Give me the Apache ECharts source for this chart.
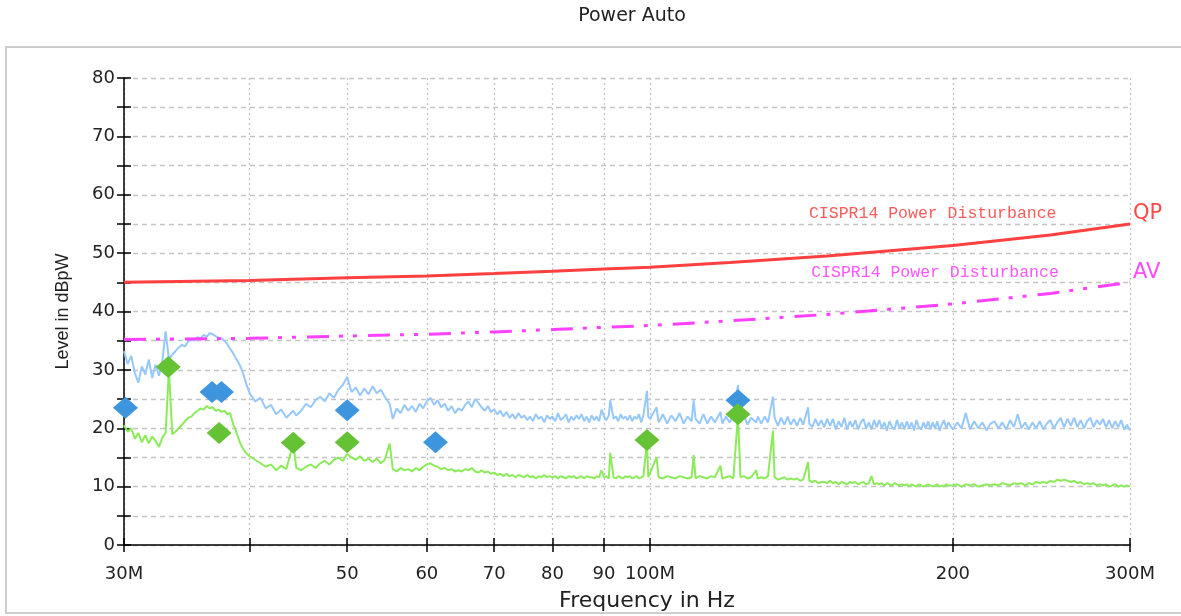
<!DOCTYPE html>
<html><head><meta charset="utf-8">
<script src="https://cdn.jsdelivr.net/npm/echarts@6/dist/echarts.min.js"></script>
<style>html,body{margin:0;padding:0;background:#fff}#c{width:1181px;height:616px}</style>
</head><body><div id="c"></div>
<script>
// Sweep frequencies (MHz)
const freqMHz = [
 30, 30.25, 30.5, 30.75, 31, 31.25, 31.5, 31.75, 32, 32.25,
 32.5, 32.75, 33, 33.25, 33.5, 33.75, 34, 34.25, 34.5, 34.75,
 35, 35.25, 35.5, 35.75, 36, 36.25, 36.5, 36.75, 37, 37.25,
 37.5, 37.75, 38, 38.25, 38.5, 38.75, 39, 39.25, 39.5, 39.75,
 40, 40.5, 41, 41.5, 42, 42.5, 43, 43.5, 44.2, 44.5,
 45, 45.5, 46, 46.5, 47, 47.5, 48, 48.5, 49, 49.5,
 50, 50.5, 51, 51.5, 52, 52.5, 53, 53.5, 54, 54.5,
 55.1, 55.5, 56, 56.5, 57, 57.5, 58, 58.5, 59, 59.5,
 60, 60.5, 61, 61.5, 62, 62.5, 63, 63.5, 64, 64.5,
 65, 65.5, 66, 66.5, 67, 67.5, 68, 68.5, 69, 69.5,
 70, 70.5, 71, 71.5, 72, 72.5, 73, 73.5, 74, 74.5,
 75, 75.5, 76, 76.5, 77, 77.5, 78, 78.5, 79, 79.5,
 80, 80.5, 81, 81.5, 82, 82.5, 83, 83.5, 84, 84.5,
 85, 85.5, 86, 86.5, 87, 87.5, 88, 88.5, 89, 89.5,
 90, 90.5, 91, 91.3, 92, 92.5, 93, 93.5, 94, 94.5,
 95, 95.5, 96, 96.5, 97, 97.5, 98, 98.5, 99.3, 99.6,
 100, 101.5, 102, 103, 104, 105, 106, 107, 108, 109,
 110, 110.5, 111, 112, 113, 114, 115, 116, 117.5, 118,
 119, 120, 121, 122.3, 123, 124, 125, 126, 127.5, 128,
 129, 130, 131, 132.5, 133, 134, 135, 136, 137, 138,
 139, 140, 141, 142, 143.6, 144, 145, 146, 147, 148,
 149, 150, 151, 152, 153, 154, 155, 156, 157, 158,
 159, 160, 161, 162, 163, 164, 165, 166, 167, 168,
 169, 170, 171, 172, 173, 174, 175, 176, 177, 178,
 179, 180, 181, 182, 183, 184, 185, 186, 187, 188,
 189, 190, 191, 192, 193, 194, 195, 196, 197, 198,
 200, 202, 204, 206, 208, 210, 212, 214, 216, 218,
 220, 222, 224, 226, 228, 230, 232, 234, 236, 238,
 240, 242, 244, 246, 248, 250, 252, 254, 256, 258,
 260, 262, 264, 266, 268, 270, 272, 274, 276, 278,
 280, 282, 284, 286, 288, 290, 292, 294, 296, 298,
 300
];
// Peak trace (dBpW)
const peakLevel = [
 33.2, 31.0, 32.4, 29.5, 27.8, 30.6, 29.2, 31.8, 28.6, 30.9,
 29.0, 31.5, 36.6, 31.8, 32.6, 33.2, 33.8, 34.3, 34.0, 34.9,
 35.2, 35.0, 35.6, 35.4, 36.0, 35.7, 36.3, 36.1, 35.8, 35.5,
 35.4, 35.0, 34.4, 33.6, 32.9, 32.0, 31.2, 30.2, 28.8, 27.2,
 26.0, 24.6, 25.2, 23.4, 24.0, 22.4, 23.2, 21.8, 23.0, 22.2,
 23.0, 24.2, 23.6, 24.8, 25.4, 24.6, 26.0, 25.2, 26.6, 27.4,
 28.8, 26.2, 27.0, 25.6, 26.8, 25.8, 27.2, 26.0, 26.6, 25.4,
 24.2, 21.6, 23.4, 22.6, 24.0, 23.0, 23.8, 22.8, 24.2, 23.4,
 24.6, 25.2, 24.0, 24.8, 23.6, 24.2, 23.0, 23.8, 22.6, 23.4,
 23.0, 24.0, 24.6, 23.6, 25.0, 24.4, 23.6, 23.0, 23.8, 22.8,
 23.2, 22.4, 23.0, 22.0, 22.8, 21.8, 22.4, 21.6, 22.6, 21.8,
 22.2, 21.4, 22.0, 21.2, 22.4, 21.6, 22.0, 21.0, 22.2, 21.6,
 22.0, 21.2, 22.6, 21.4, 21.8, 22.4, 21.0, 22.0, 21.4, 22.2,
 21.6, 22.4, 21.2, 22.0, 21.0, 22.2, 21.4, 22.0, 21.2, 23.2,
 22.0, 21.4, 22.2, 24.8, 21.6, 22.0, 21.2, 22.4, 21.6, 22.0,
 21.4, 22.2, 21.2, 22.0, 21.6, 22.4, 21.0, 22.2, 26.4, 22.0,
 21.6, 23.6, 21.0, 22.4, 20.8, 22.2, 21.2, 22.6, 20.8, 22.0,
 21.2, 24.8, 21.6, 20.8, 22.4, 20.8, 22.0, 21.0, 22.8, 20.8,
 22.0, 21.0, 22.2, 27.4, 21.0, 22.2, 20.6, 21.8, 21.0, 22.0,
 20.8, 22.0, 21.0, 25.4, 21.8, 20.4, 21.8, 20.6, 22.0, 20.6,
 21.6, 20.4, 21.8, 20.6, 23.6, 20.8, 20.2, 21.6, 20.4, 21.4,
 20.2, 21.6, 20.4, 21.6, 19.8, 21.2, 20.2, 21.8, 19.8, 21.2,
 20.2, 21.4, 19.8, 21.0, 21.6, 20.0, 21.0, 19.8, 21.4, 20.2,
 21.4, 20.0, 21.0, 19.6, 21.2, 20.2, 19.8, 21.4, 20.0, 21.0,
 19.8, 21.2, 20.0, 21.0, 19.6, 21.4, 20.2, 19.8, 21.0, 20.0,
 21.2, 19.8, 21.0, 20.0, 21.2, 19.6, 20.6, 21.4, 20.0, 21.0,
 19.8, 21.0, 20.0, 22.6, 19.8, 21.2, 20.0, 21.0, 19.6, 20.8,
 21.2, 20.0, 21.0, 19.8, 21.4, 20.2, 22.4, 20.0, 21.0, 19.8,
 21.0, 20.0, 21.2, 19.8, 20.8, 21.4, 20.0, 21.0, 21.8, 20.2,
 21.6, 20.4, 21.8, 20.2, 21.4, 20.0, 21.2, 21.8, 20.2, 21.4,
 20.6, 21.6, 20.2, 21.4, 20.0, 21.2, 20.2, 21.4, 19.8, 20.6,
 19.6
];
// Average trace (dBpW)
const avgLevel = [
 20.5, 19.4, 20.0, 18.2, 19.2, 17.6, 18.8, 17.4, 18.6, 17.8,
 16.8, 18.4, 19.2, 30.2, 19.0, 19.4, 20.0, 20.6, 21.2, 21.8,
 22.0, 22.6, 23.0, 23.4, 23.2, 23.8, 23.4, 23.6, 23.0, 23.2,
 22.8, 23.0, 22.4, 22.6, 20.8, 19.6, 18.2, 17.0, 16.2, 15.6,
 15.2, 14.6, 14.0, 13.4, 13.8, 12.8, 13.6, 13.0, 17.4, 13.2,
 12.8, 13.4, 13.8, 13.2, 14.0, 14.4, 13.8, 14.6, 15.0, 14.4,
 15.6, 15.0, 14.6, 15.2, 14.4, 14.8, 14.2, 14.8, 14.0, 14.6,
 17.4, 13.0, 12.6, 13.2, 12.8, 13.0, 12.6, 13.2, 12.8, 13.4,
 13.8, 14.0, 13.6, 13.4, 13.0, 13.2, 12.8, 13.0, 12.6, 12.8,
 12.6, 13.0, 12.8, 13.2, 12.6, 12.4, 12.8, 12.4, 12.6, 12.2,
 12.4, 12.0, 12.2, 11.8, 12.2, 11.8, 12.0, 11.6, 12.0, 11.8,
 11.6, 12.0, 11.6, 11.8, 11.4, 11.8, 11.6, 12.0, 11.6, 11.8,
 11.6, 11.8, 11.4, 11.8, 11.6, 11.4, 11.8, 11.6, 11.8, 11.4,
 11.6, 11.8, 11.4, 11.8, 11.6, 11.6, 11.4, 11.8, 11.6, 12.8,
 11.6, 11.8, 11.4, 15.8, 11.6, 11.4, 11.8, 11.6, 11.4, 11.8,
 11.6, 11.8, 11.4, 11.6, 11.8, 11.4, 11.6, 11.8, 17.8, 11.6,
 11.8, 15.0, 11.6, 11.4, 11.8, 11.6, 11.4, 11.8, 11.6, 11.4,
 11.6, 15.4, 11.4, 11.8, 11.6, 11.4, 11.8, 11.6, 13.6, 11.4,
 11.6, 11.8, 11.4, 22.2, 11.6, 11.8, 11.4, 11.6, 12.8, 11.4,
 11.6, 11.4, 11.8, 19.6, 11.6, 11.2, 11.4, 11.6, 11.2, 11.4,
 11.2, 11.4, 11.0, 11.2, 14.2, 11.0, 10.8, 11.0, 10.6, 10.8,
 10.8, 10.6, 11.0, 10.6, 10.8, 10.4, 10.8, 10.6, 10.4, 10.8,
 10.6, 10.8, 10.4, 10.6, 10.8, 10.4, 10.6, 11.8, 10.4, 10.6,
 10.4, 10.6, 10.2, 10.6, 10.4, 10.2, 10.6, 10.4, 10.2, 10.4,
 10.2, 10.4, 10.0, 10.4, 10.2, 10.0, 10.4, 10.2, 10.0, 10.2,
 10.4, 10.2, 10.0, 10.2, 10.4, 10.0, 10.2, 10.0, 10.4, 10.2,
 10.2, 10.4, 10.0, 10.4, 10.2, 10.4, 10.0, 10.2, 10.4, 10.2,
 10.4, 10.2, 10.6, 10.4, 10.2, 10.6, 10.4, 10.6, 10.2, 10.6,
 10.4, 10.8, 10.6, 10.8, 10.6, 11.0, 10.8, 11.2, 11.0, 11.2,
 11.0, 10.8, 11.0, 10.6, 10.8, 10.4, 10.6, 10.4, 10.6, 10.2,
 10.4, 10.2, 10.4, 10.0, 10.2, 10.4, 10.0, 10.2, 10.0, 10.2,
 10.0
];
// Limit lines
const limitFreq = [30, 40, 50, 60, 70, 80, 90, 100, 120, 150, 200, 250, 300];
const qpLimit = [45.0, 45.3, 45.8, 46.1, 46.5, 46.9, 47.3, 47.6, 48.4, 49.5, 51.3, 53.1, 55.0];
const avLimit = [35.2, 35.4, 35.8, 36.1, 36.5, 36.9, 37.3, 37.6, 38.4, 39.5, 41.3, 43.1, 45.0];
// Final markers
const peakMarkFreq = [30.1, 36.7, 37.5, 50.0, 61.2, 122.3];
const peakMarkLevel = [23.5, 26.2, 26.2, 23.1, 17.6, 24.8];
const avgMarkFreq = [33.2, 37.3, 44.2, 50.0, 99.3, 122.3];
const avgMarkLevel = [30.5, 19.2, 17.5, 17.6, 18.0, 22.4];
// Axis ticks
const xTickValues = [30, 40, 50, 60, 70, 80, 90, 100, 200, 300];
const xLabelValues = [30, 50, 60, 70, 80, 90, 100, 200, 300];
const xLabelText = {30: '30M', 100: '100M', 300: '300M'};
const limitText = 'CISPR14 Power Disturbance';

const pairs = (xs, ys) => xs.map((x, i) => [x, ys[i]]);
const chart = echarts.init(document.getElementById('c'), null, {renderer: 'canvas'});
const axisFont = {color: '#222', fontSize: 18, fontFamily: 'DejaVu Sans'};
const blackLine = {color: '#000', width: 1.5};

chart.setOption({
  animation: false,
  backgroundColor: '#fff',
  title: {
    text: 'Power Auto', left: 627, top: 2, textAlign: 'center',
    textStyle: {color: '#222', fontSize: 19, fontWeight: 'normal', fontFamily: 'DejaVu Sans'}
  },
  graphic: [{
    type: 'rect', x: 6, y: 47, z: -10, silent: true,
    shape: {width: 1200, height: 566},
    style: {fill: 'none', stroke: '#cfcfcf', lineWidth: 2}
  }],
  grid: {left: 124, right: 51, top: 78, bottom: 71, containLabel: false, outerBoundsMode: 'none'},
  xAxis: [{
    type: 'log', logBase: 10, min: 30, max: 300, position: 'bottom',
    axisLine: {show: true, onZero: false, lineStyle: blackLine},
    axisTick: {show: true, inside: false, length: 7, customValues: xTickValues, lineStyle: blackLine},
    axisLabel: Object.assign({customValues: xLabelValues, margin: 20,
      formatter: v => { const r = Math.round(v); return xLabelText[r] || String(r); }}, axisFont),
    splitLine: {show: true, lineStyle: {color: '#c4c4c4', width: 1.3, type: [2, 3]}},
    minorTick: {show: false}, minorSplitLine: {show: false},
    name: 'Frequency in Hz', nameLocation: 'middle', nameGap: 45,
    nameTextStyle: {color: '#222', fontSize: 22, fontFamily: 'DejaVu Sans', padding: [0, 0, 0, 40]}
  }, {
    type: 'log', logBase: 10, min: 30, max: 300, position: 'bottom',
    axisLine: {show: false},
    axisTick: {show: true, inside: true, length: 7, customValues: xTickValues, lineStyle: blackLine},
    axisLabel: {show: false}, splitLine: {show: false}
  }],
  yAxis: [{
    type: 'value', min: 0, max: 80, interval: 5, position: 'left',
    axisLine: {show: true, lineStyle: blackLine},
    axisTick: {show: true, inside: false, length: 7, lineStyle: blackLine},
    axisLabel: Object.assign({margin: 9, formatter: v => (v % 10 === 0 ? String(v) : '')}, axisFont),
    splitLine: {show: true, lineStyle: {color: '#c4c4c4', width: 1.3, type: [5, 4]}},
    name: 'Level in dBpW', nameLocation: 'middle', nameGap: 52, nameRotate: 90,
    nameTextStyle: {color: '#222', fontSize: 18, fontFamily: 'Liberation Sans'}
  }, {
    type: 'value', min: 0, max: 80, interval: 5, position: 'left',
    axisLine: {show: false},
    axisTick: {show: true, inside: true, length: 7, lineStyle: blackLine},
    axisLabel: {show: false}, splitLine: {show: false}
  }],
  series: [{
    name: 'Peak', type: 'line', data: pairs(freqMHz, peakLevel),
    showSymbol: false, symbol: 'none', z: 2,
    lineStyle: {color: '#96c8fa', width: 2}
  }, {
    name: 'Average', type: 'line', data: pairs(freqMHz, avgLevel),
    showSymbol: false, symbol: 'none', z: 2,
    lineStyle: {color: '#8ceb5a', width: 2}
  }, {
    name: 'QP limit', type: 'line', data: pairs(limitFreq, qpLimit),
    showSymbol: false, symbol: 'none', z: 3,
    lineStyle: {color: '#ff4040', width: 3},
    endLabel: {show: true, formatter: 'QP', color: '#ff4a4a', fontSize: 21, fontFamily: 'DejaVu Sans', distance: 3, offset: [0, -10]},
    markPoint: {
      symbol: 'rect', symbolSize: 0, silent: true,
      label: {show: true, position: 'inside', formatter: limitText, color: '#ff5a5a', fontSize: 16.5, fontFamily: 'Liberation Mono'},
      data: [{coord: [191, 56.85]}]
    }
  }, {
    name: 'AV limit', type: 'line', data: pairs(limitFreq, avLimit),
    showSymbol: false, symbol: 'none', z: 3,
    lineStyle: {color: '#ff40ff', width: 3, type: [22, 10, 4, 10, 4, 11]},
    endLabel: {show: true, formatter: 'AV', color: '#ff4aff', fontSize: 21, fontFamily: 'DejaVu Sans', distance: 3, offset: [0, -10]},
    markPoint: {
      symbol: 'rect', symbolSize: 0, silent: true,
      label: {show: true, position: 'inside', formatter: limitText, color: '#ff55ff', fontSize: 16.5, fontFamily: 'Liberation Mono'},
      data: [{coord: [192, 46.6]}]
    }
  }, {
    name: 'Peak finals', type: 'scatter', data: pairs(peakMarkFreq, peakMarkLevel),
    symbol: 'diamond', symbolSize: [25, 22], z: 5,
    itemStyle: {color: '#3d95dd', opacity: 1}
  }, {
    name: 'Average finals', type: 'scatter', data: pairs(avgMarkFreq, avgMarkLevel),
    symbol: 'diamond', symbolSize: [25, 22], z: 6,
    itemStyle: {color: '#64c234', opacity: 1}
  }]
});
</script>
</body></html>
